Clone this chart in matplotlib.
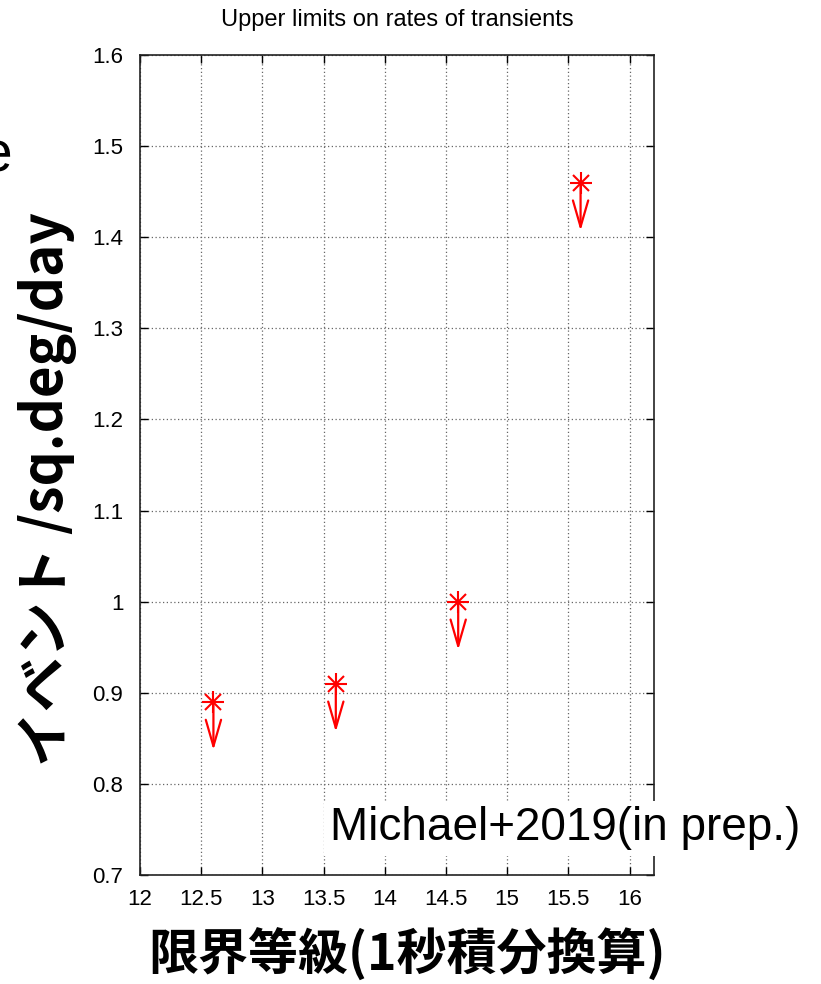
import matplotlib
matplotlib.use("Agg")
import matplotlib.pyplot as plt

# limit magnitudes and upper-limit rates
mag = [12.6, 13.6, 14.6, 15.6]
rate = [0.89, 0.91, 1.0, 1.46]
arrow_len = 0.053

xticks = [12, 12.5, 13, 13.5, 14, 14.5, 15, 15.5, 16]
xlabels = ["12", "12.5", "13", "13.5", "14", "14.5", "15", "15.5", "16"]
yticks = [0.7, 0.8, 0.9, 1.0, 1.1, 1.2, 1.3, 1.4, 1.5, 1.6]
ylabels = ["0.7", "0.8", "0.9", "1", "1.1", "1.2", "1.3", "1.4", "1.5", "1.6"]

plt.rcParams['font.family'] = ['Liberation Sans', 'DejaVu Sans']

fig = plt.figure(figsize=(8.21, 9.84), dpi=100)
ax = fig.add_axes([140/821, 109/984, 514/821, 820/984])

ax.set_xlim(12, 16.2)
ax.set_ylim(0.7, 1.6)
ax.set_xticks(xticks)
ax.set_xticklabels(xlabels)
ax.set_yticks(yticks)
ax.set_yticklabels(ylabels)
ax.tick_params(direction='in', length=6, width=1, top=True, right=True,
               labelsize=16, colors='black')
ax.tick_params(axis='y', pad=12)
ax.tick_params(axis='x', pad=10)
ax.grid(True, color='#666666', linestyle=(0, (1, 2)), linewidth=0.9)
for s in ax.spines.values():
    s.set_linewidth(1.2)
    s.set_color('#222222')

for x, y in zip(mag, rate):
    ax.annotate("", xy=(x, y - arrow_len), xytext=(x, y),
                arrowprops=dict(arrowstyle='->,head_length=1.9,head_width=0.55',
                                color='red', lw=1.6, shrinkA=0, shrinkB=0))
ax.plot(mag, rate, linestyle='none', marker='+', color='red', markersize=16, mew=1.5)
ax.plot(mag, rate, linestyle='none', marker='x', color='red', markersize=12, mew=1.5)

fig.text(397/821, 1 - 20/984, "Upper limits on rates of transients",
         ha='center', va='center', fontsize=17)

fig.text(48/821, 1 - 489/984, "イベント /sq.deg/day", rotation=90,
         ha='center', va='center', fontsize=39.5, fontweight='bold',
         family=['Noto Sans CJK JP', 'DejaVu Sans'])

fig.text(407/821, 1 - 955/984, "限界等級(1秒積分換算)",
         ha='center', va='center', fontsize=36, fontweight='bold',
         family=['Noto Sans CJK JP', 'DejaVu Sans'])

t = fig.text(565/821, 1 - 828/984, "Michael+2019(in prep.)",
             ha='center', va='center', fontsize=33, zorder=10)
t.set_bbox(dict(facecolor='white', edgecolor='none', pad=4))

fig.text(12/821, 1 - 172/984, "e", ha='right', va='baseline', fontsize=41)

fig.savefig("out.png", dpi=100)
